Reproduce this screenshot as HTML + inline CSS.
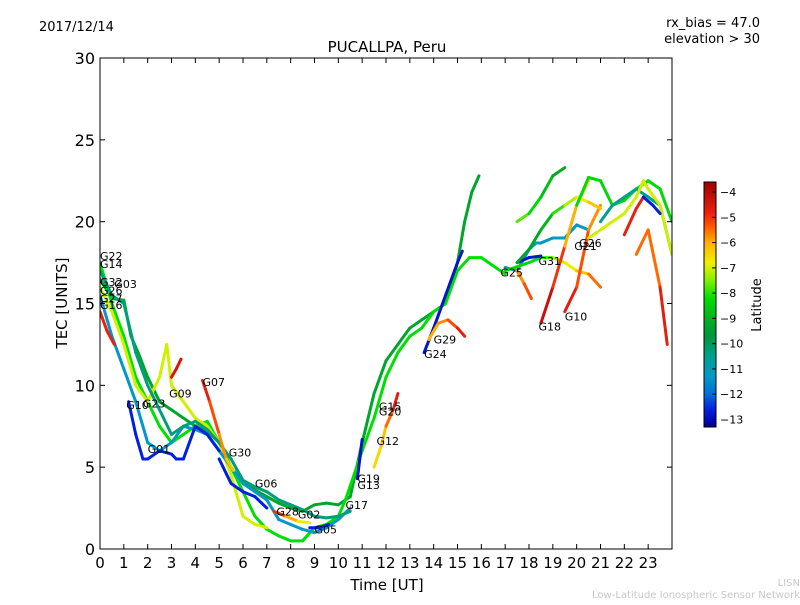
<!DOCTYPE html>
<html><head><meta charset="utf-8"><style>
body{margin:0;background:#fff;}
svg text{font-family:"DejaVu Sans","Liberation Sans",sans-serif;}
</style></head><body>
<svg id="chart" width="800" height="600" xmlns="http://www.w3.org/2000/svg">
<defs>
<linearGradient id="cmap" x1="0" y1="1" x2="0" y2="0"></linearGradient>
<clipPath id="plotclip"><rect x="100" y="58" width="572" height="491"/></clipPath>
</defs>
<rect x="0" y="0" width="800" height="600" fill="#fff"/>
<text x="39" y="31" font-size="13">2017/12/14</text>
<text x="760" y="27" font-size="13" text-anchor="end">rx_bias = 47.0</text>
<text x="760" y="43" font-size="13" text-anchor="end">elevation &gt; 30</text>
<text x="387" y="52" font-size="15" text-anchor="middle">PUCALLPA, Peru</text>
<g id="marks" clip-path="url(#plotclip)"></g>
<g id="labels"></g>
<rect x="100" y="58" width="572" height="491" fill="none" stroke="#000" stroke-width="1"/>
<g id="axes"></g>
<text x="387" y="590" font-size="15" text-anchor="middle">Time [UT]</text>
<text x="67" y="303" font-size="15" text-anchor="middle" transform="rotate(-90 67 303)">TEC [UNITS]</text>
<rect x="704" y="182" width="12" height="245" fill="url(#cmap)" stroke="#000" stroke-width="1"/>
<g id="cbticks"></g>
<text x="761" y="305" font-size="13" text-anchor="middle" transform="rotate(-90 761 305)">Latitude</text>
<text x="800" y="586" font-size="10" fill="#c8c8c8" text-anchor="end">LISN</text>
<text x="800" y="598" font-size="10" fill="#c8c8c8" text-anchor="end">Low-Latitude Ionospheric Sensor Network</text>
</svg>
<script>
const xTicks=[0,1,2,3,4,5,6,7,8,9,10,11,12,13,14,15,16,17,18,19,20,21,22,23];
const yTicks=[0,5,10,15,20,25,30];
const cbTicks=[-4,-5,-6,-7,-8,-9,-10,-11,-12,-13];
// tracks: time (UT hours), TEC, latitude
const t1=[0,0.5,1,1.3,1.6,2,2.5,3,3.5,4,4.5,5,5.5,6,6.5,7,7.5,8,8.5,9,9.5,10,10.5,11,11.5,12,12.5,13,13.5,14,14.5,15,15.3,15.6,15.9];
const v1=[16.5,15.3,15.2,13,12,10.5,9,8.5,8,7.5,7.2,6.5,5,4,3.6,3.2,2.8,2.5,2.3,2.7,2.8,2.7,3.2,6.5,9.5,11.5,12.5,13.5,14,14.5,15,17.5,20,21.8,22.8];
const l1=-9.3;
const t2=[0,0.5,1,1.5,2,2.5,3,3.5,4,4.5,5,5.5,6,6.5,7,7.5,8,8.5,9,9.5,10,10.3,11,11.5,12,12.5,13,13.5,14,14.5,15,15.5,16,16.5,17];
const v2=[17.5,15,13,10.5,9,7.5,6.5,7,7.5,7.8,6.5,5,3.5,2,1.2,0.8,0.5,0.5,1.3,1.5,2,3,6,8,10.5,12,13,13.5,14.5,15,17,17.8,17.8,17.3,16.8];
const l2=-8.2;
const t3=[0,0.5,1,1.5,2,2.5,2.8,3,3.5,4,4.5,5,5.5,6,6.5,7];
const v3=[16,14.5,12.5,10,9,10.5,12.5,10,9,8,7.5,6.5,4.5,2,1.5,1.3];
const l3=-7;
const t4=[0,0.5,1,1.5,2,2.5,3,3.5,4,4.5,5,5.5,6,6.5,7,7.5,8,8.5,9,9.5,10,10.5];
const v4=[15.5,13,11,9,6.5,6,6.5,7.5,7.3,7,6,5,4,3.5,3,1.8,1.5,1.2,1,1.3,1.8,2.5];
const l4=-11.3;
const t5=[1.2,1.5,1.8,2,2.5,3,3.2,3.5,4,4.5,5];
const v5=[9,7,5.5,5.5,6,5.8,5.5,5.5,7.5,7,6];
const l5=-12.6;
const t6=[5,5.5,6,6.5,7];
const v6=[5.5,4,3.5,3.2,2.5];
const l6=-12.6;
const t7=[4.3,4.6,5,5.3,5.6];
const v7=[10.3,9,7,5.5,4.8];
const l7=[-4.5,-5,-5.5,-6,-6.5];
const t8=[0,0.3,0.6];
const v8=[14.5,13.3,12.5];
const l8=-4.8;
const t9=[3.0,3.2,3.4];
const v9=[10.5,11,11.6];
const l9=-4.5;
const t10=[0,0.5,1,1.5,2,2.5,3,3.5,4,4.5,5,5.5,6,6.5,7,7.5,8,8.5,9,9.5,10,10.5];
const v10=[17,15.5,15,12,10,8.5,7,7.5,7.8,7.3,6.5,5.5,4.2,3.8,3.5,3,2.7,2.4,2,1.9,2,2.3];
const l10=-10.3;
const t11=[10.8,10.9,11.0];
const v11=[4.3,5.5,6.7];
const l11=-12.8;
const t12=[11.5,11.8,12,12.3,12.5];
const v12=[5,6.3,7.5,8.5,9.5];
const l12=[-6.5,-6.5,-6,-5,-4.5];
const t13=[13.6,14,14.5,15,15.2];
const v13=[12,13.5,15.5,17.5,18.2];
const l13=-12.8;
const t14=[13.8,14.2,14.6,15,15.3];
const v14=[12.8,13.8,14,13.5,13];
const l14=[-6,-6,-5.5,-5,-4.5];
const t15=[17,17.5,18,18.3,18.5,19,19.5,20,20.5];
const v15=[17.2,17,18.3,18.7,18.7,19,19,19.8,19.5];
const l15=-11.2;
const t16=[17.5,18,18.5];
const v16=[17.5,17.8,17.9];
const l16=-12.8;
const t17=[17,18,18.5,19,19.5,20,20.5,21];
const v17=[17,17.5,17.8,17.8,17.5,17,16.8,16];
const l17=[-8.3,-8.3,-8.2,-7.5,-7,-6.5,-6,-5];
const t18=[17.5,17.8,18.1];
const v18=[17,16.2,15.3];
const l18=[-6,-5.5,-5];
const t19=[18.5,19,19.5,20,20.5];
const v19=[13.8,16,18.5,21,22.5];
const l19=[-4,-4.5,-5.5,-6.5,-7];
const t20=[19.5,20,20.5,21];
const v20=[14.5,16,19.5,21];
const l20=[-4.5,-5,-5.5,-6];
const t21=[17.5,18,18.5,19,19.5];
const v21=[20,20.5,21.5,22.8,23.3];
const l21=[-7.5,-8,-8.5,-9,-9.3];
const t22=[17.5,18,18.5,19,19.5,20,20.5,21];
const v22=[17.5,18.3,19.5,20.5,21,21.5,21.2,20.8];
const l22=[-9.3,-9.3,-9.3,-8.5,-7.5,-7,-6.5,-6];
const t23=[20,20.5,21,21.5,22,22.5,23,23.5,24];
const v23=[21,22.7,22.5,21,21.3,22,22.5,22,20];
const l23=-8.3;
const t24=[21,21.5,22,22.5,23,23.5,24];
const v24=[20,21,21.5,22,21.5,21,18];
const l24=-10.5;
const t25=[20.5,21,22,22.5,22.8,23,23.5,24];
const v25=[19,19.5,20.5,21.5,22.5,22,21,18];
const l25=-7;
const t26=[22,22.5,22.8];
const v26=[19.2,20.8,21.5];
const l26=-4.8;
const t27=[22.5,23,23.5,23.8];
const v27=[18,19.5,16,12.5];
const l27=[-5,-6,-5,-4.5];
const t28=[22.8,23.2,23.5];
const v28=[21.5,21,20.5];
const l28=-12.6;
const t29=[7.3,7.8,8.3,8.8];
const v29=[2.3,2.0,1.7,1.6];
const l29=[-4.5,-5.5,-6.5,-7];
const t30=[8.8,9.2,9.6];
const v30=[1.3,1.3,1.5];
const l30=-12.6;
const tracks=[[t1,v1,l1],[t2,v2,l2],[t3,v3,l3],[t4,v4,l4],[t10,v10,l10],[t5,v5,l5],[t6,v6,l6],[t7,v7,l7],[t8,v8,l8],[t9,v9,l9],[t11,v11,l11],[t12,v12,l12],[t13,v13,l13],[t14,v14,l14],[t15,v15,l15],[t17,v17,l17],[t16,v16,l16],[t18,v18,l18],[t19,v19,l19],[t20,v20,l20],[t21,v21,l21],[t22,v22,l22],[t23,v23,l23],[t24,v24,l24],[t25,v25,l25],[t26,v26,l26],[t27,v27,l27],[t28,v28,l28],[t29,v29,l29],[t30,v30,l30]];
const satNames=["G22","G14","G32","G03","G26","G27","G16","G10","G23","G09","G07","G01","G30","G06","G28","G02","G05","G17","G19","G13","G15","G20","G12","G24","G29","G25","G31","G18","G10","G21","G26"];
const satT=[0,0,0,0.6,0,0,0,1.1,1.8,2.9,4.3,2.0,5.4,6.5,7.4,8.3,9.0,10.3,10.8,10.8,11.7,11.7,11.6,13.6,14.0,16.8,18.4,18.4,19.5,19.9,20.1];
const satV=[17.9,17.4,16.3,16.2,15.8,15.3,14.9,8.8,8.9,9.5,10.2,6.1,5.9,4.0,2.3,2.1,1.2,2.7,4.3,3.9,8.7,8.4,6.6,11.9,12.8,16.9,17.6,13.6,14.2,18.5,18.7];
const sx=t=>100+t*(572/24);
const sy=v=>549-v*(491/30);
const ns="http://www.w3.org/2000/svg";
const cmLat=[-13.3,-12.6,-12,-11.3,-10.5,-9.7,-9,-8.2,-7.5,-6.8,-6,-5.3,-4.8,-3.6];
const cmCol=[[0,0,140],[0,32,224],[0,112,216],[0,152,200],[0,160,144],[0,150,60],[0,176,32],[0,224,0],[128,240,0],[240,240,0],[255,176,0],[255,80,0],[232,32,16],[160,0,0]];
function cmap(lat){if(lat<=cmLat[0])return `rgb(${cmCol[0]})`;
for(let i=0;i<cmLat.length-1;i++){if(lat<=cmLat[i+1]){const f=(lat-cmLat[i])/(cmLat[i+1]-cmLat[i]);
const c=cmCol[i].map((a,j)=>Math.round(a+(cmCol[i+1][j]-a)*f));return `rgb(${c})`;}}
return `rgb(${cmCol[cmCol.length-1]})`;}
const grad=document.getElementById('cmap');
cmLat.forEach((l,i)=>{const s=document.createElementNS(ns,'stop');
s.setAttribute('offset',(l+13.3)/9.7);s.setAttribute('stop-color',`rgb(${cmCol[i]})`);grad.appendChild(s);});
const marks=document.getElementById('marks');
tracks.forEach((tr,k)=>{const [ts,vs,ls]=tr;
for(let i=0;i<ts.length-1;i++){const la=Array.isArray(ls)?(ls[i]+ls[i+1])/2:ls;
const ln=document.createElementNS(ns,'line');


ln.setAttribute('x1',sx(ts[i]));ln.setAttribute('y1',sy(vs[i]));
ln.setAttribute('x2',sx(ts[i+1]));ln.setAttribute('y2',sy(vs[i+1]));
ln.setAttribute('stroke',cmap(la));ln.setAttribute('stroke-width','3');ln.setAttribute('stroke-linecap','round');
marks.appendChild(ln);}});
const labs=document.getElementById('labels');
satNames.forEach((n,i)=>{const t=document.createElementNS(ns,'text');


t.setAttribute('x',sx(satT[i]));t.setAttribute('y',sy(satV[i])+4);t.setAttribute('font-size','11');t.textContent=n;labs.appendChild(t);});
const axes=document.getElementById('axes');
xTicks.forEach(v=>{const x=sx(v);
const a=document.createElementNS(ns,'line');


a.setAttribute('x1',x);a.setAttribute('x2',x);a.setAttribute('y1',549);a.setAttribute('y2',544);a.setAttribute('stroke','#000');axes.appendChild(a);
const b=document.createElementNS(ns,'line');


b.setAttribute('x1',x);b.setAttribute('x2',x);b.setAttribute('y1',58);b.setAttribute('y2',63);b.setAttribute('stroke','#000');axes.appendChild(b);
const t=document.createElementNS(ns,'text');


t.setAttribute('x',x);t.setAttribute('y',568);t.setAttribute('font-size','15');t.setAttribute('text-anchor','middle');t.textContent=v;axes.appendChild(t);});
yTicks.forEach(v=>{const y=sy(v);
const a=document.createElementNS(ns,'line');


a.setAttribute('x1',100);a.setAttribute('x2',105);a.setAttribute('y1',y);a.setAttribute('y2',y);a.setAttribute('stroke','#000');axes.appendChild(a);
const b=document.createElementNS(ns,'line');


b.setAttribute('x1',667);b.setAttribute('x2',672);b.setAttribute('y1',y);b.setAttribute('y2',y);b.setAttribute('stroke','#000');axes.appendChild(b);
const t=document.createElementNS(ns,'text');


t.setAttribute('x',95);t.setAttribute('y',y+6);t.setAttribute('font-size','16');t.setAttribute('text-anchor','end');t.textContent=v;axes.appendChild(t);});
const cb=document.getElementById('cbticks');
cbTicks.forEach(v=>{const y=182+(-3.6-v)/9.7*245;
const a=document.createElementNS(ns,'line');


a.setAttribute('x1',712);a.setAttribute('x2',716);a.setAttribute('y1',y);a.setAttribute('y2',y);a.setAttribute('stroke','#000');cb.appendChild(a);
const t=document.createElementNS(ns,'text');


t.setAttribute('x',720);t.setAttribute('y',y+4);t.setAttribute('font-size','11');t.textContent='\u2212'+Math.abs(v);cb.appendChild(t);});
</script>
</body></html>
